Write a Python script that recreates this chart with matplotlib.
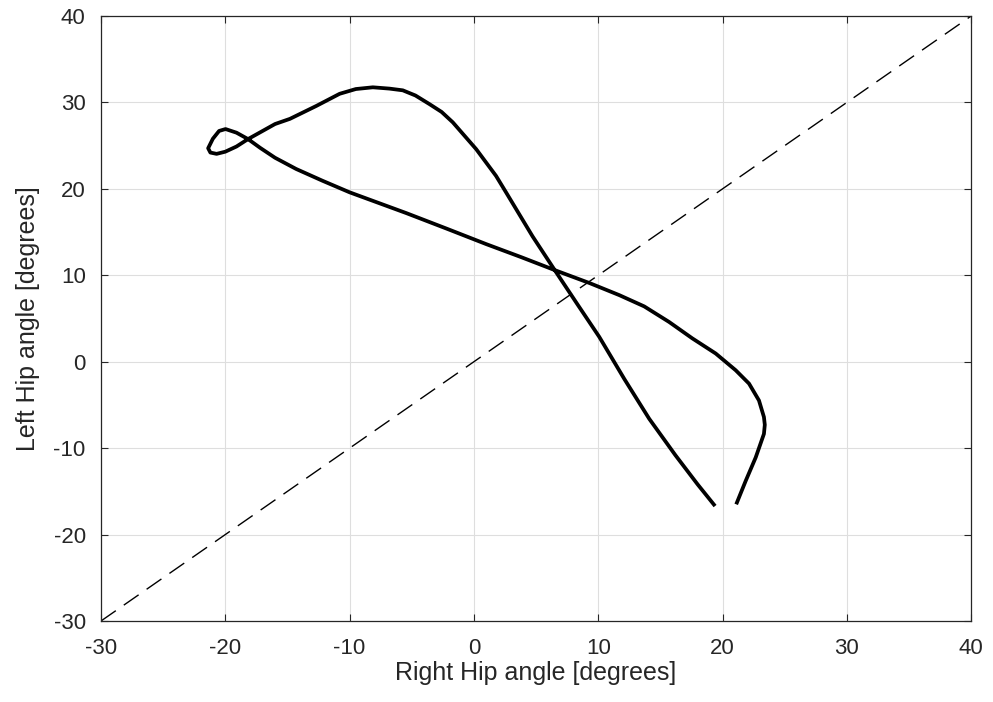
import numpy as np
import matplotlib.pyplot as plt

plt.rcParams['font.family'] = ['Liberation Sans', 'DejaVu Sans']
plt.rcParams['axes.unicode_minus'] = False

# Hip-hip cyclogram, points (right hip, left hip).
right_hip = [21.1, 21.86, 22.67, 23.33, 23.4, 23.33, 22.93, 22.13, 21.06,
             19.45, 17.57, 15.7, 13.7, 11.7, 9.3, 6.5, 3.8, 1.0, -2.2,
             -5.45, -10.0, -12.2, -14.3, -16.0, -17.2, -18.17, -19.1,
             -19.98, -20.5, -21.0, -21.38, -21.2, -20.7, -20.0, -19.1,
             -18.17, -16.0, -14.8, -12.67, -10.8, -9.5, -8.13, -6.8, -5.72,
             -4.7, -3.57, -2.6, -1.7, 0.18, 1.78, 2.6, 4.72, 6.5, 8.3, 10.08,
             12.1, 14.1, 16.2, 18.0, 19.4]
left_hip = [-16.5, -13.8, -11.07, -8.35, -7.3, -6.4, -4.48, -2.53, -0.99,
            0.95, 2.7, 4.6, 6.4, 7.7, 9.1, 10.6, 12.1, 13.6, 15.4,
            17.2, 19.6, 20.95, 22.3, 23.6, 24.75, 25.76, 26.5,
            26.92, 26.7, 25.8, 24.7, 24.2, 24.05, 24.3, 24.9,
            25.76, 27.5, 28.1, 29.6, 31.0, 31.55, 31.75, 31.6, 31.4,
            30.8, 29.8, 28.9, 27.7, 24.6, 21.5, 19.56, 14.5, 10.6, 6.7, 2.88,
            -2.0, -6.6, -10.8, -14.2, -16.7]

# Reference line of perfect symmetry.
diag = [-30, 40]

x_ticks = [-30, -20, -10, 0, 10, 20, 30, 40]
y_ticks = [-30, -20, -10, 0, 10, 20, 30, 40]

text_col = '#262626'

fig = plt.figure(figsize=(9.93, 7.02), dpi=100)
ax = fig.add_axes([0.1017, 0.1154, 0.8763, 0.8618])

ax.plot(diag, diag, color='black', linewidth=1.0, dashes=(13, 7))
ax.plot(right_hip, left_hip, color='black', linewidth=2.7,
        solid_joinstyle='round', solid_capstyle='butt')

ax.set_xlim(-30, 40)
ax.set_ylim(-30, 40)
ax.set_xticks(x_ticks)
ax.set_yticks(y_ticks)
ax.grid(True, color='#dedede', linewidth=0.8)
ax.set_axisbelow(True)

ax.tick_params(direction='in', length=5, width=0.8, colors=text_col,
               labelsize=16, top=True, right=True)
ax.tick_params(axis='x', pad=12)
ax.tick_params(axis='y', pad=11)
for s in ax.spines.values():
    s.set_color(text_col)
    s.set_linewidth(0.9)

ax.set_xlabel('Right Hip angle [degrees]', fontsize=18, color=text_col,
              labelpad=2)
ax.set_ylabel('Left Hip angle [degrees]', fontsize=18, color=text_col,
              labelpad=10)

fig.savefig('out.png', dpi=100)
